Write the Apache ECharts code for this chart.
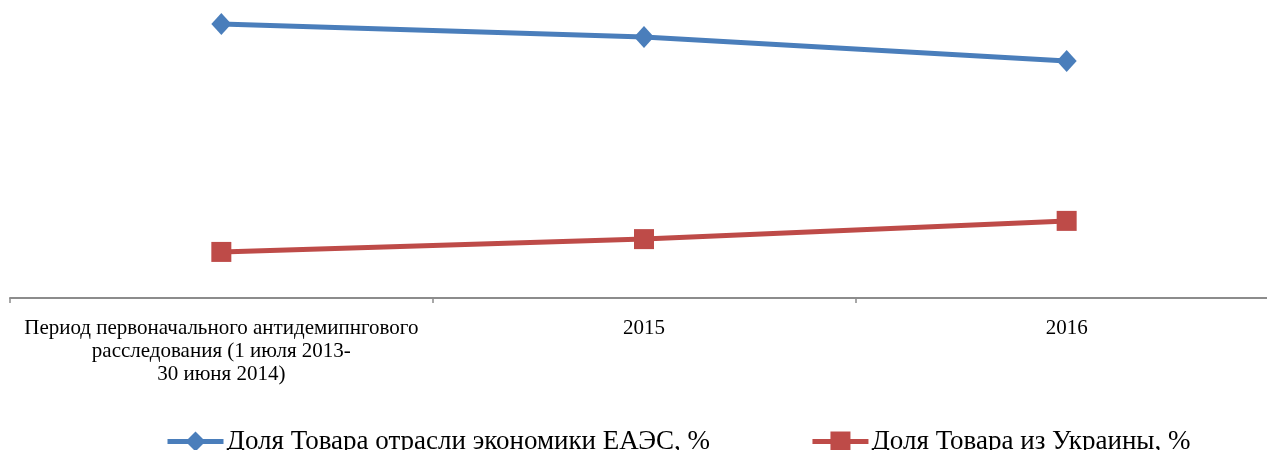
<!DOCTYPE html>
<html>
<head>
<meta charset="utf-8">
<script src="https://cdn.jsdelivr.net/npm/echarts@6/dist/echarts.min.js"></script>
<style>
html,body{margin:0;padding:0;background:#fff;}
#c{width:1267px;height:450px;}
</style>
</head>
<body>
<div id="c"></div>
<script>
var categories = [
  "Период первоначального антидемипнгового\nрасследования (1 июля 2013-\n30 июня 2014)",
  "2015",
  "2016"
];
var seriesNames = ["Доля Товара отрасли экономики ЕАЭС, %", "Доля Товара из Украины, %"];
var eaesShare = [85.6, 81.6, 74.1];
var ukraineShare = [14.4, 18.4, 24.1];

var chart = echarts.init(document.getElementById('c'));
var font = '"Liberation Serif", "Times New Roman", serif';
chart.setOption({
  animation: false,
  grid: { left: 10, top: 10, width: 1268, height: 288, containLabel: false, outerBoundsMode: 'none' },
  xAxis: {
    type: 'category',
    data: categories,
    boundaryGap: true,
    axisLine: { show: true, lineStyle: { color: '#8c8c8c', width: 2 } },
    axisTick: { show: true, length: 5, alignWithLabel: false, lineStyle: { color: '#8c8c8c', width: 1.5 } },
    axisLabel: { interval: 0, margin: 19, color: '#000', fontFamily: font, fontSize: 21, lineHeight: 23 }
  },
  yAxis: {
    type: 'value', min: 0, max: 90, show: false,
    splitLine: { show: false }
  },
  legend: {
    left: 160, top: 423,
    itemWidth: 56, itemHeight: 25, itemGap: 100,
    lineStyle: { width: 5 },
    textStyle: { fontFamily: font, fontSize: 27, color: '#000', padding: [0,0,0,-2] },
    data: seriesNames
  },
  series: [
    {
      name: seriesNames[0], type: 'line', data: eaesShare,
      symbol: 'diamond', symbolSize: [20, 22],
      lineStyle: { color: '#4A7EBB', width: 5 },
      itemStyle: { color: '#4A7EBB' }
    },
    {
      name: seriesNames[1], type: 'line', data: ukraineShare,
      symbol: 'rect', symbolSize: [20, 20],
      lineStyle: { color: '#BE4B48', width: 5 },
      itemStyle: { color: '#BE4B48' }
    }
  ]
});
</script>
</body>
</html>
